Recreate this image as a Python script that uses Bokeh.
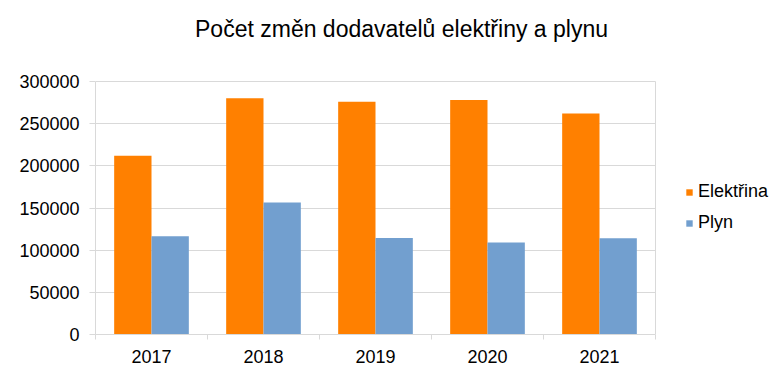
from bokeh.plotting import figure
from bokeh.models import (Range1d, FixedTicker, Legend, LegendItem, Label,
                          ColumnDataSource, NumeralTickFormatter)
from bokeh.transform import dodge
from bokeh.embed import file_html
from bokeh.resources import INLINE

# ---- data ----
years = ["2017", "2018", "2019", "2020", "2021"]
elektrina = [212000, 280000, 276000, 278000, 262000]
plyn = [116500, 156500, 114500, 109000, 114000]
y_ticks = [0, 50000, 100000, 150000, 200000, 250000, 300000]
series_names = ["Elektřina", "Plyn"]
title_text = "Počet změn dodavatelů elektřiny a plynu"

ORANGE = "#FF8000"
BLUE = "#729FCF"
GRID = "#d9d9d9"
FONT = "Liberation Sans"

n = len(years)
y_max = y_ticks[-1]
centers = [i + 0.5 for i in range(n)]
src = ColumnDataSource(dict(x=centers, e=elektrina, g=plyn, year=years))

# layout (pixels): plot area 560 x 253, frame extended right (legend) and up (title)
left_px, cat_px, plot_h_px = 95, 560, 253
frame_w, frame_h = 685, 334
px_x = n / cat_px            # data units per pixel (x)
px_y = y_max / plot_h_px     # data units per pixel (y)

p = figure(frame_width=frame_w, frame_height=frame_h,
           x_range=Range1d(0, frame_w * px_x), y_range=Range1d(0, frame_h * px_y),
           output_backend="svg", toolbar_location=None,
           min_border_left=left_px, min_border_right=0,
           min_border_top=0, min_border_bottom=37)

w = 1.0 / 3.0
r1 = p.vbar(x=dodge('x', -w / 2, range=p.x_range), top='e', width=w,
            source=src, fill_color=ORANGE, line_color=None)
r2 = p.vbar(x=dodge('x', w / 2, range=p.x_range), top='g', width=w,
            source=src, fill_color=BLUE, line_color=None)

# title (placed inside the extended frame)
title = Label(x=(401 - left_px) * px_x, y=(frame_h - 28) * px_y,
              text=title_text, text_align="center", text_baseline="alphabetic",
              text_font=FONT, text_font_size="23px", text_color="#000000")
p.add_layout(title)

# y axis
p.yaxis.ticker = FixedTicker(ticks=y_ticks)
p.yaxis.formatter = NumeralTickFormatter(format="0")
p.yaxis.bounds = (0, y_max)
p.yaxis.major_label_text_font = FONT
p.yaxis.major_label_text_font_size = "18px"
p.yaxis.major_label_text_color = "#000000"
p.yaxis.axis_line_color = GRID
p.yaxis.major_tick_line_color = GRID
p.yaxis.major_tick_out = 6
p.yaxis.major_tick_in = 0
p.yaxis.minor_tick_line_color = None
p.yaxis.major_label_standoff = 10

# x axis
p.xaxis.ticker = FixedTicker(ticks=centers, minor_ticks=list(range(n + 1)))
p.xaxis.major_label_overrides = {c: y for c, y in zip(centers, years)}
p.xaxis.bounds = (0, n)
p.xaxis.major_label_text_font = FONT
p.xaxis.major_label_text_font_size = "18px"
p.xaxis.major_label_text_color = "#000000"
p.xaxis.axis_line_color = GRID
p.xaxis.major_tick_out = 0
p.xaxis.major_tick_in = 0
p.xaxis.minor_tick_out = 5
p.xaxis.minor_tick_in = 0
p.xaxis.minor_tick_line_color = GRID
p.xaxis.major_label_standoff = 10

# grid limited to the plot area + right edge of the plot area
p.ygrid.ticker = FixedTicker(ticks=y_ticks)
p.ygrid.grid_line_color = GRID
p.ygrid.cross_bounds = (0, n)
p.xgrid.ticker = FixedTicker(ticks=[n])
p.xgrid.grid_line_color = GRID
p.xgrid.cross_bounds = (0, y_max)
p.outline_line_color = None

# legend
legend = Legend(items=[LegendItem(label=series_names[0], renderers=[r1]),
                       LegendItem(label=series_names[1], renderers=[r2])],
                location=(590, 101), orientation="vertical",
                margin=0, padding=0, spacing=10,
                glyph_width=8, glyph_height=8, label_height=20,
                label_standoff=5, label_text_font=FONT,
                label_text_font_size="18px", label_text_color="#000000",
                border_line_color=None, background_fill_alpha=0)
p.add_layout(legend, "center")

open("out.html", "w").write(file_html(p, INLINE))
